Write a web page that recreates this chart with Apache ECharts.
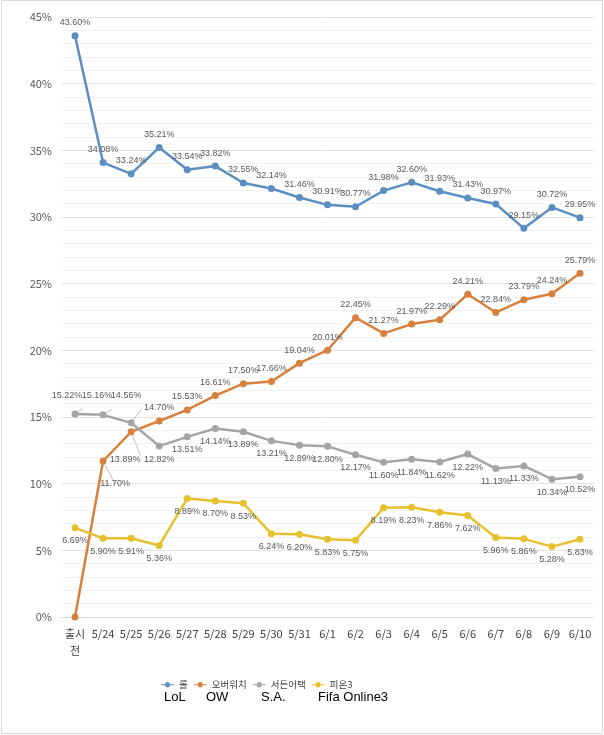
<!DOCTYPE html>
<html><head><meta charset="utf-8">
<script src="https://cdn.jsdelivr.net/npm/echarts@6/dist/echarts.min.js"></script>
<style>html,body{margin:0;padding:0;background:#fff}#c{width:604px;height:735px}</style>
</head><body><div id="c"></div>
<script>
const categories = ['출시\n전','5/24','5/25','5/26','5/27','5/28','5/29','5/30','5/31','6/1','6/2','6/3','6/4','6/5','6/6','6/7','6/8','6/9','6/10'];
const lol  = [43.60,34.08,33.24,35.21,33.54,33.82,32.55,32.14,31.46,30.91,30.77,31.98,32.60,31.93,31.43,30.97,29.15,30.72,29.95];
const ow   = [0,11.70,13.89,14.70,15.53,16.61,17.50,17.66,19.04,20.01,22.45,21.27,21.97,22.29,24.21,22.84,23.79,24.24,25.79];
const sa   = [15.22,15.16,14.56,12.82,13.51,14.14,13.89,13.21,12.89,12.80,12.17,11.60,11.84,11.62,12.22,11.13,11.33,10.34,10.52];
const fifa = [6.69,5.90,5.91,5.36,8.89,8.70,8.53,6.24,6.20,5.83,5.75,8.19,8.23,7.86,7.62,5.96,5.86,5.28,5.83];
const seriesNames = ['롤','오버워치','서든어택','피온3'];
const subLabels = ['LoL','OW','S.A.','Fifa Online3'];

const FONT = '"Noto Sans CJK KR","Noto Sans",sans-serif';
const LBLFONT = '"Liberation Sans",Arial,sans-serif';
const labelStyle = {show:true, fontSize:9, color:'#595959', fontFamily:LBLFONT,
  formatter: p => p.value.toFixed(2)+'%'};
const leader = {show:true, lineStyle:{color:'#bfbfbf', width:1}};

function mk(name, data, color, pos, overrides) {
  return {
    name, type:'line', data: data.map((v,i)=>{
      const o = {value:v};
      if (overrides && overrides[i]) Object.assign(o, overrides[i]);
      return o;
    }),
    symbol:'circle', symbolSize:7, lineStyle:{width:2.5,color}, itemStyle:{color},
    label: Object.assign({}, labelStyle, {position:pos, distance:5}),
    labelLine:{show:false, lineStyle:{color:'#bfbfbf', width:1}},
  };
}

const chart = echarts.init(document.getElementById('c'));
chart.setOption({
  animation:false,
  textStyle:{fontFamily:FONT},
  grid:{left:61, right:10, top:17, bottom:118},
  legend:{
    data:seriesNames, left:156, top:675, itemWidth:13, itemHeight:7, itemGap:6,
    icon:'path://M0,3 L5,3 A3,3 0 1 1 11,3 L16,3 L16,4 L11,4 A3,3 0 1 1 5,4 L0,4 Z',
    textStyle:{fontSize:9.5, color:'#404040', fontFamily:FONT}
  },
  xAxis:{type:'category', data:categories, boundaryGap:true,
    axisLine:{lineStyle:{color:'#d9d9d9'}}, axisTick:{show:false},
    axisLabel:{color:'#404040', fontSize:11, margin:8, lineHeight:17, interval:0, fontFamily:FONT}},
  yAxis:{type:'value', min:0, max:45, interval:5,
    axisLabel:{formatter:'{value}%', color:'#595959', fontSize:11, margin:9},
    axisLine:{show:false}, axisTick:{show:false},
    splitLine:{lineStyle:{color:'#e3e3e3'}},
    minorTick:{show:false, splitNumber:5},
    minorSplitLine:{show:true, lineStyle:{color:'#f2f2f2'}}},
  series:[
    mk(seriesNames[0], lol, '#5B8FC2', 'top'),
    mk(seriesNames[1], ow, '#D8803D', 'top', {
      0:{label:{show:false}},
      1:{label:{position:'bottom', offset:[12,10]}, labelLine:leader},
      2:{label:{position:'bottom', offset:[-6,15]}, labelLine:leader}
    }),
    mk(seriesNames[2], sa, '#A5A5A5', 'bottom', {
      0:{label:{position:'top', offset:[-8,-6]}, labelLine:leader},
      1:{label:{position:'top', offset:[-6,-6]}, labelLine:leader},
      2:{label:{position:'top', offset:[-5,-14]}, labelLine:leader}
    }),
    mk(seriesNames[3], fifa, '#E6C02E', 'bottom')
  ],
  graphic:[
    {type:'rect', shape:{x:1.5,y:0.5,width:601,height:733}, style:{fill:'none', stroke:'#d9d9d9', lineWidth:1}, silent:true},
    {type:'text', left:164, top:691, style:{text:subLabels[0], fontSize:13, fill:'#000', fontFamily:'"Liberation Sans",Arial'}},
    {type:'text', left:206, top:691, style:{text:subLabels[1], fontSize:13, fill:'#000', fontFamily:'"Liberation Sans",Arial'}},
    {type:'text', left:261, top:691, style:{text:subLabels[2], fontSize:13, fill:'#000', fontFamily:'"Liberation Sans",Arial'}},
    {type:'text', left:318, top:691, style:{text:subLabels[3], fontSize:13, fill:'#000', fontFamily:'"Liberation Sans",Arial'}}
  ]
});
</script></body></html>
